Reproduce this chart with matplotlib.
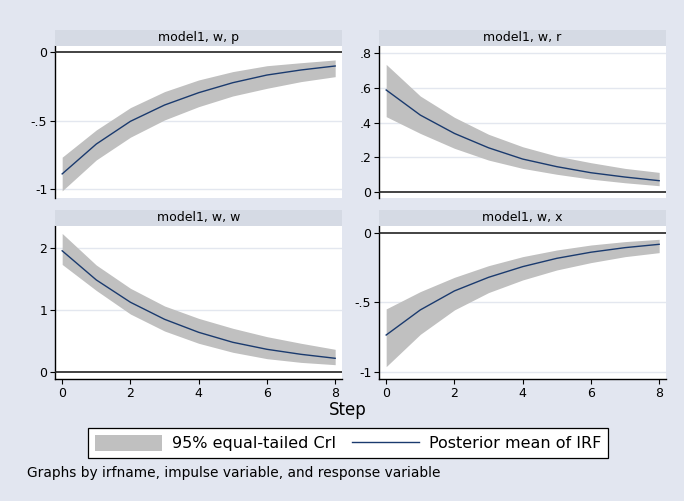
import matplotlib
matplotlib.use("Agg")
import matplotlib.pyplot as plt
from matplotlib.patches import Patch
from matplotlib.lines import Line2D

steps = [0, 1, 2, 3, 4, 5, 6, 7, 8]

titles = ["model1, w, p", "model1, w, r", "model1, w, w", "model1, w, x"]

mean_p = [-0.888, -0.670, -0.504, -0.385, -0.295, -0.222, -0.166, -0.129, -0.100]
lo_p = [-1.012, -0.786, -0.620, -0.494, -0.397, -0.319, -0.263, -0.214, -0.178]
hi_p = [-0.766, -0.567, -0.404, -0.287, -0.202, -0.141, -0.098, -0.076, -0.056]

mean_r = [0.588, 0.443, 0.337, 0.254, 0.189, 0.145, 0.110, 0.085, 0.064]
lo_r = [0.434, 0.337, 0.251, 0.183, 0.135, 0.101, 0.073, 0.052, 0.035]
hi_r = [0.736, 0.553, 0.430, 0.332, 0.260, 0.206, 0.168, 0.135, 0.112]

mean_w = [1.95, 1.48, 1.12, 0.845, 0.635, 0.474, 0.361, 0.280, 0.216]
lo_w = [1.73, 1.31, 0.93, 0.656, 0.458, 0.313, 0.210, 0.150, 0.113]
hi_w = [2.23, 1.72, 1.345, 1.06, 0.86, 0.70, 0.565, 0.458, 0.361]

mean_x = [-0.736, -0.555, -0.418, -0.320, -0.243, -0.183, -0.139, -0.106, -0.082]
lo_x = [-0.964, -0.731, -0.555, -0.430, -0.339, -0.267, -0.214, -0.171, -0.142]
hi_x = [-0.548, -0.423, -0.320, -0.236, -0.171, -0.123, -0.087, -0.0625, -0.046]

yticks = [[0, -0.5, -1], [0, 0.2, 0.4, 0.6, 0.8], [0, 1, 2], [0, -0.5, -1]]
yticklabels = [["0", "-.5", "-1"], ["0", ".2", ".4", ".6", ".8"], ["0", "1", "2"], ["0", "-.5", "-1"]]
xticks = [0, 2, 4, 6, 8]
xticklabels = ["0", "2", "4", "6", "8"]

series = [(mean_p, lo_p, hi_p), (mean_r, lo_r, hi_r), (mean_w, lo_w, hi_w), (mean_x, lo_x, hi_x)]
ylims = [(-1.064, 0.046), (-0.036, 0.842), (-0.118, 2.35), (-1.053, 0.05)]

W, H = 684, 501
BG = "#E2E6F0"
STRIP = "#D5DAE4"
BAND = "#C0C0C0"
LINE = "#1A3A6E"
GRID = "#E3E7EF"

fig = plt.figure(figsize=(W / 100, H / 100), dpi=100, facecolor=BG)

boxes = [(55, 342, 46, 198), (379, 666, 46, 198), (55, 342, 226, 379), (379, 666, 226, 379)]
strip_h = 16

for i, (l, r, t, b) in enumerate(boxes):
    ax = fig.add_axes([l / W, 1 - b / H, (r - l) / W, (b - t) / H])
    ax.set_facecolor("white")
    m, lo, hi = series[i]
    ax.fill_between(steps, lo, hi, color=BAND, linewidth=0, zorder=2)
    ax.plot(steps, m, color=LINE, lw=1.0, zorder=3)
    ax.axhline(0, color="#222222", lw=1.2, zorder=4)
    ax.set_xlim(-0.21, 8.2)
    ax.set_ylim(*ylims[i])
    ax.set_yticks(yticks[i])
    ax.set_yticklabels(yticklabels[i], fontsize=9)
    for y in yticks[i]:
        if y != 0:
            ax.axhline(y, color=GRID, lw=1.0, zorder=1)
    for s in ["top", "right"]:
        ax.spines[s].set_visible(False)
    ax.spines["left"].set_color("black")
    ax.spines["left"].set_linewidth(1.0)
    ax.tick_params(axis="y", length=3.5, width=0.8, pad=2, labelsize=9)
    if i >= 2:
        ax.set_xticks(xticks)
        ax.set_xticklabels(xticklabels, fontsize=9)
        ax.spines["bottom"].set_color("black")
        ax.spines["bottom"].set_linewidth(1.0)
        ax.tick_params(axis="x", length=3.5, width=0.8, pad=2, labelsize=9)
    else:
        ax.spines["bottom"].set_visible(False)
        ax.set_xticks([])
    # strip
    sax = fig.add_axes([l / W, 1 - t / H, (r - l) / W, strip_h / H])
    sax.set_facecolor(STRIP)
    sax.set_xticks([])
    sax.set_yticks([])
    for s in sax.spines.values():
        s.set_visible(False)
    sax.text(0.5, 0.5, titles[i], ha="center", va="center", fontsize=9, transform=sax.transAxes)

fig.text(348 / W, 1 - 410 / H, "Step", ha="center", va="center", fontsize=12)

handles = [Patch(facecolor=BAND, edgecolor="none"), Line2D([0], [0], color=LINE, lw=1.0)]
labels = ["95% equal-tailed CrI", "Posterior mean of IRF"]
leg = fig.legend(handles, labels, loc="center", bbox_to_anchor=(348 / W, 1 - 443 / H), ncol=2,
                 fontsize=11.5, frameon=True, fancybox=False, edgecolor="black", framealpha=1,
                 facecolor="white", handlelength=4.2, handleheight=1.2, columnspacing=1.0,
                 handletextpad=0.6, borderpad=0.45, borderaxespad=0)
leg.get_frame().set_linewidth(0.9)

fig.text(27 / W, 1 - 473 / H, "Graphs by irfname, impulse variable, and response variable",
         ha="left", va="center", fontsize=9.9)

fig.savefig("out.png", dpi=100, facecolor=BG)
